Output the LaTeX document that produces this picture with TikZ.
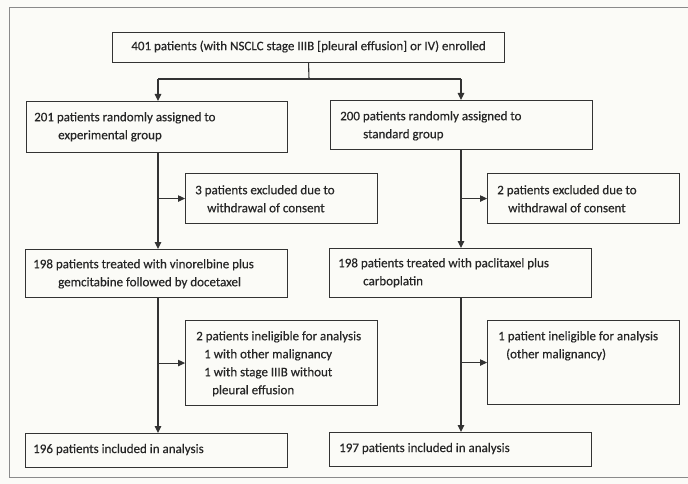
\documentclass[tikz,border=0pt]{standalone}
\usepackage{fontspec}
\setmainfont{Carlito}
\newfontface\medface{Carlito}[FakeBold=0.4]
\usetikzlibrary{arrows.meta}
\definecolor{bgc}{HTML}{FBFBF7}
\definecolor{linec}{HTML}{333333}
\definecolor{textc}{HTML}{262626}
\definecolor{framec}{HTML}{8A8A8A}
\begin{document}
\begin{tikzpicture}[x=1pt,y=-1pt,
  box/.style={draw=linec, line width=1.1pt, inner sep=0pt, anchor=north west},
  txt/.style={anchor=north west, inner sep=0pt, text=textc, align=left,
              font=\fontsize{13}{18}\medface},
  ctxt/.style={inner sep=0pt, text=textc, font=\fontsize{13}{18}\medface},
  arr/.style={draw=linec, line width=1.1pt, -{Triangle[length=7pt,width=6.5pt]}},
  ln/.style={draw=linec, line width=1.1pt}]
\fill[bgc] (0,0) rectangle (688,484);
\useasboundingbox (0,0) rectangle (688,484);
\draw[framec, line width=0.9pt] (690,7) -- (9,7) -- (9,477) -- (690,477);
% boxes
\node[box, minimum width=392pt, minimum height=30pt] (top) at (112,32) {};
\node[box, minimum width=261pt, minimum height=51pt] (b201) at (26,101) {};
\node[box, minimum width=262pt, minimum height=49pt] (b200) at (330,100) {};
\node[box, minimum width=192pt, minimum height=50pt] (ex3) at (185,173) {};
\node[box, minimum width=192pt, minimum height=50pt] (ex2) at (487,173) {};
\node[box, minimum width=262pt, minimum height=48pt] (t198l) at (25,249) {};
\node[box, minimum width=262pt, minimum height=49pt] (t198r) at (329,248) {};
\node[box, minimum width=192pt, minimum height=85pt] (inl) at (185,320) {};
\node[box, minimum width=192pt, minimum height=84pt] (inr) at (487,320) {};
\node[box, minimum width=262pt, minimum height=34pt] (b196) at (25,433) {};
\node[box, minimum width=262pt, minimum height=34pt] (b197) at (329,432) {};
% texts
\node[ctxt] (ttop) at ([yshift=1pt]top.center) {401 patients (with NSCLC stage IIIB [pleural effusion] or IV) enrolled};
\node[txt] (t201) at ([shift={(8,11)}]b201.north west) {201 patients randomly assigned to\\\hspace*{24pt}experimental group};
\node[txt] (t200) at ([shift={(10,11)}]b200.north west) {200 patients randomly assigned to\\\hspace*{23pt}standard group};
\node[txt] (tex3) at ([shift={(10,12)}]ex3.north west) {3 patients excluded due to\\\hspace*{12pt}withdrawal of consent};
\node[txt] (tex2) at ([shift={(10,12)}]ex2.north west) {2 patients excluded due to\\\hspace*{11pt}withdrawal of consent};
\node[txt] (tt198l) at ([shift={(8,10)}]t198l.north west) {198 patients treated with vinorelbine plus\\\hspace*{25pt}gemcitabine followed by docetaxel};
\node[txt] (tt198r) at ([shift={(9,10)}]t198r.north west) {198 patients treated with paclitaxel plus\\\hspace*{25pt}carboplatin};
\node[txt] (tinl) at ([shift={(11,11)}]inl.north west) {2 patients ineligible for analysis\\\hspace*{8pt}1 with other malignancy\\\hspace*{8pt}1 with stage IIIB without\\\hspace*{16pt}pleural effusion};
\node[txt] (tinr) at ([shift={(11,11)}]inr.north west) {1 patient ineligible for analysis\\\hspace*{8pt}(other malignancy)};
\node[ctxt, anchor=west] (t196) at ([shift={(8,-1)}]b196.west) {196 patients included in analysis};
\node[ctxt, anchor=west] (t197) at ([shift={(10,-1)}]b197.west) {197 patients included in analysis};
% connectors
\coordinate (split) at (309,79);
\coordinate (lsplit) at (158,79);
\coordinate (rsplit) at (461,79);
\draw[ln] (top.south) -- (split);
\draw[ln] (lsplit) -- (rsplit);
\draw[arr] (lsplit) -- (lsplit |- b201.north);
\draw[arr] (rsplit) -- (rsplit |- b200.north);
\draw[arr] (lsplit |- b201.south) -- (lsplit |- t198l.north);
\draw[arr] (rsplit |- b200.south) -- (rsplit |- t198r.north);
\draw[arr] (lsplit |- ex3.west) -- (ex3.west);
\draw[arr] (rsplit |- ex2.west) -- (ex2.west);
\draw[arr] (lsplit |- t198l.south) -- (lsplit |- b196.north);
\draw[arr] (rsplit |- t198r.south) -- (rsplit |- b197.north);
\draw[arr] (lsplit |- inl.west) -- (inl.west);
\draw[arr] (rsplit |- inr.west) -- (inr.west);
\end{tikzpicture}
\end{document}
